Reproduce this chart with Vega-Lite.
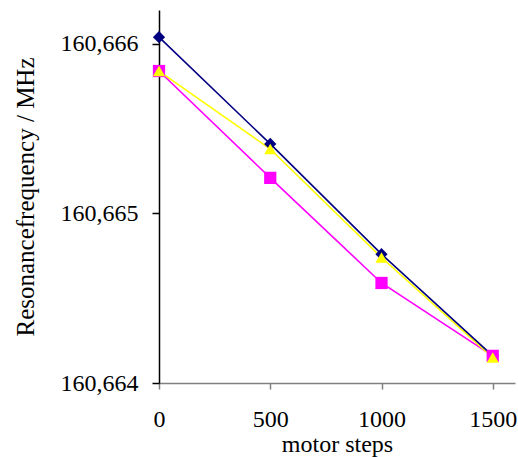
{
  "$schema": "https://vega.github.io/schema/vega-lite/v6.json",
  "autosize": "none",
  "width": 356,
  "height": 373,
  "padding": {"left": 159, "top": 10, "right": 3, "bottom": 74},
  "background": "white",
  "data": {"values": [
    {"series": "A", "steps": 0, "freq": 160.66604},
    {"series": "A", "steps": 500, "freq": 160.66541},
    {"series": "A", "steps": 1000, "freq": 160.66476},
    {"series": "A", "steps": 1500, "freq": 160.66416},
    {"series": "B", "steps": 0, "freq": 160.66584},
    {"series": "B", "steps": 500, "freq": 160.66521},
    {"series": "B", "steps": 1000, "freq": 160.66459},
    {"series": "B", "steps": 1500, "freq": 160.66416},
    {"series": "C", "steps": 0, "freq": 160.66584},
    {"series": "C", "steps": 500, "freq": 160.66538},
    {"series": "C", "steps": 1000, "freq": 160.66474},
    {"series": "C", "steps": 1500, "freq": 160.66415}
  ]},
  "encoding": {
    "x": {"field": "steps", "type": "quantitative", "title": "motor steps",
      "scale": {"domain": [0, 1600], "nice": false, "zero": false},
      "axis": {"values": [0, 500, 1000, 1500], "format": "d", "grid": false,
        "domainColor": "#808080", "tickColor": "#808080", "tickSize": 6,
        "labelPadding": 18, "titlePadding": 1, "titleFontSize": 24, "labelFlush": false}},
    "y": {"field": "freq", "type": "quantitative", "title": "Resonancefrequency / MHz",
      "scale": {"domain": [160.664, 160.6662], "nice": false, "zero": false},
      "axis": {"values": [160.664, 160.665, 160.666], "grid": false,
        "labelExpr": "replace(format(datum.value, '.3f'), '.', ',')",
        "domainColor": "black", "tickColor": "black", "tickSize": 7,
        "labelPadding": 14, "titlePadding": 22, "titleFontSize": 25}},
    "color": {"field": "series", "type": "nominal", "legend": null,
      "scale": {"domain": ["A", "B", "C"], "range": ["#000080", "#FF00FF", "#FFFF00"]}}
  },
  "layer": [
    {"transform": [{"filter": "datum.series == 'B'"}], "mark": {"type": "line", "strokeWidth": 1.6}},
    {"transform": [{"filter": "datum.series == 'C'"}], "mark": {"type": "line", "strokeWidth": 1.6}},
    {"transform": [{"filter": "datum.series == 'A'"}], "mark": {"type": "line", "strokeWidth": 1.6}},
    {"mark": {"type": "point", "filled": true, "opacity": 1, "size": 150},
      "encoding": {
        "shape": {"field": "series", "type": "nominal", "legend": null,
          "scale": {"domain": ["A", "B", "C"], "range": ["diamond", "square", "triangle-up"]}}
      }}
  ],
  "config": {
    "view": {"stroke": null},
    "font": "Liberation Serif",
    "axis": {"labelFont": "Liberation Serif", "titleFont": "Liberation Serif",
      "labelFontSize": 24, "titleFontWeight": "normal",
      "labelColor": "black", "titleColor": "black", "domainWidth": 1.5, "tickWidth": 1.5}
  }
}
